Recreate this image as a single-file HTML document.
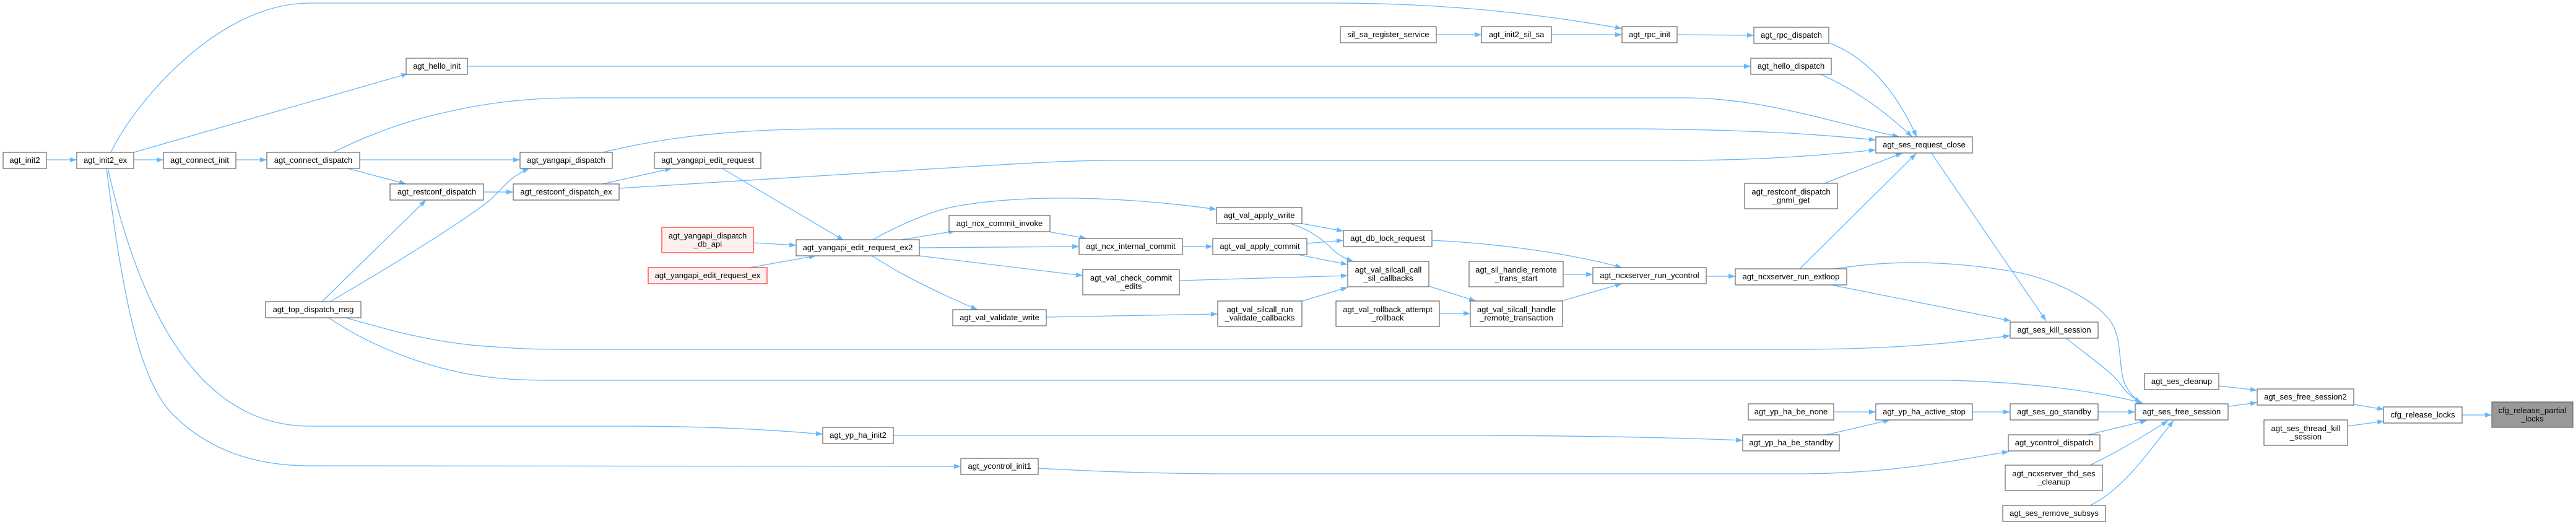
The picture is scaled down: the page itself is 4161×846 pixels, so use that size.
<!DOCTYPE html>
<html>
<head>
<meta charset="utf-8">
<style>
html,body{margin:0;padding:0;background:#fff;}
svg{display:block;}
.n{fill:#fff;stroke:#666;stroke-width:1.2;}
.r{fill:#fff0f0;stroke:#ff3b3b;stroke-width:1.3;}
.g{fill:#999;stroke:#666;stroke-width:1.2;}
text{font-family:"Liberation Sans",Arial,sans-serif;font-size:13px;fill:#000;text-anchor:middle;}
.e{fill:none;stroke:#63b8ff;stroke-width:1.3;marker-end:url(#ah);}
</style>
</head>
<body>
<svg width="4161" height="846" viewBox="0 0 4161 846" xmlns="http://www.w3.org/2000/svg">
<defs>
<marker id="ah" markerUnits="userSpaceOnUse" markerWidth="12" markerHeight="9" refX="11" refY="4" orient="auto">
<path d="M0,0 L11,4 L0,8 z" fill="#63b8ff"/>
</marker>
</defs>
<rect width="4161" height="846" fill="#fff"/>

<!-- edges -->
<g>
<path class="e" d="M76,258 L124,258"/>
<path class="e" d="M216,258 L264,258"/>
<path class="e" d="M381,258 L431,258"/>
<path class="e" d="M179,246 C215,170 350,5 500,5 L2150,5 C2350,5 2500,25 2620,46"/>
<path class="e" d="M216,246 L659,119"/>
<path class="e" d="M755,107 L2828,107"/>
<path class="e" d="M538,246 C580,225 640,200 700,186 C780,166 850,158 930,158 L2730,158 C2850,160 2950,195 3068,221"/>
<path class="e" d="M581,258 L840,258"/>
<path class="e" d="M558,271 L656,297"/>
<path class="e" d="M781,310 L829,310"/>
<path class="e" d="M520,487 L688,323"/>
<path class="e" d="M533,487 C640,425 760,350 795,320 C815,300 825,285 855,272"/>
<path class="e" d="M558,513 C620,530 700,555 800,560 C850,564 880,564 930,564 L2900,564 C3050,564 3150,555 3247,542"/>
<path class="e" d="M531,513 C600,560 700,600 800,610 C840,614 870,614 900,614 L3150,614 C3300,618 3400,635 3462,651"/>
<path class="e" d="M174,271 C230,520 330,688 500,688 L1000,688 C1150,688 1250,694 1329,701"/>
<path class="e" d="M172,271 C200,500 230,620 280,670 C330,720 400,752 500,752 L1552,753"/>
<path class="e" d="M973,246 C1050,228 1150,208 1350,208 L2650,208 C2850,210 2950,218 3030,226"/>
<path class="e" d="M973,297 L1085,272"/>
<path class="e" d="M1000,304 L1500,273 C1650,264 1720,259 1800,259 L2700,259 C2850,259 2950,250 3030,242"/>
<path class="e" d="M1165,271 L1363,388"/>
<path class="e" d="M1217,392 L1286,396"/>
<path class="e" d="M1211,432 L1318,413"/>
<path class="e" d="M1456,387 L1543,373"/>
<path class="e" d="M1485,400 L1743,398"/>
<path class="e" d="M1485,413 L1749,445"/>
<path class="e" d="M1408,413 L1450,438 Q1500,466 1579,500"/>
<path class="e" d="M1408,388 C1440,370 1500,340 1550,332 C1650,315 1800,315 1965,338"/>
<path class="e" d="M1688,373 L1755,385"/>
<path class="e" d="M1910,398 L1959,398"/>
<path class="e" d="M2103,361 L2170,373"/>
<path class="e" d="M2084,361 C2120,372 2140,390 2155,405 C2165,414 2175,418 2186,422"/>
<path class="e" d="M2111,393 L2170,388"/>
<path class="e" d="M2096,411 L2177,427"/>
<path class="e" d="M1905,453 L2177,445"/>
<path class="e" d="M1690,512 L1967,507"/>
<path class="e" d="M2103,486 L2177,464"/>
<path class="e" d="M2313,388 C2400,392 2520,405 2620,432"/>
<path class="e" d="M2308,462 L2384,486"/>
<path class="e" d="M2325,506 L2375,506"/>
<path class="e" d="M2320,56 L2393,56"/>
<path class="e" d="M2506,56 L2620,56"/>
<path class="e" d="M2709,56 L2833,57"/>
<path class="e" d="M2954,69 C3010,90 3060,140 3096,221"/>
<path class="e" d="M2938,119 C3000,145 3050,185 3089,221"/>
<path class="e" d="M2947,296 L3073,247"/>
<path class="e" d="M2525,443 L2573,443"/>
<path class="e" d="M2522,486 L2620,458"/>
<path class="e" d="M2756,446 L2803,446"/>
<path class="e" d="M2907,434 L3095,248"/>
<path class="e" d="M2958,460 L3248,518"/>
<path class="e" d="M2964,434 C3050,420 3150,420 3261,440 C3330,455 3390,490 3410,520 C3430,550 3420,600 3435,625 C3442,638 3450,645 3459,650"/>
<path class="e" d="M3119,246 L3305,518"/>
<path class="e" d="M3336,545 C3380,580 3410,600 3425,620 C3435,635 3445,642 3459,650"/>
<path class="e" d="M3389,665 L3449,665"/>
<path class="e" d="M3373,702 L3468,679"/>
<path class="e" d="M3376,751 C3420,730 3470,700 3502,679"/>
<path class="e" d="M3376,816 C3430,790 3470,730 3511,679"/>
<path class="e" d="M2962,665 L3030,665"/>
<path class="e" d="M2950,702 L3053,678"/>
<path class="e" d="M1443,703 L2400,703 C2600,704 2720,707 2815,711"/>
<path class="e" d="M3186,665 L3247,665"/>
<path class="e" d="M1677,756 C1800,763 1900,765 2000,765 L2900,765 C3050,765 3150,745 3245,729"/>
<path class="e" d="M3584,623 L3646,630"/>
<path class="e" d="M3599,656 L3646,650"/>
<path class="e" d="M3802,653 L3851,661"/>
<path class="e" d="M3792,688 L3851,680"/>
<path class="e" d="M3977,670 L4025,670"/>
</g>

<!-- nodes -->
<g>
<rect class="n" x="5" y="246" width="70" height="26"/><text x="40" y="263">agt_init2</text>
<rect class="n" x="124" y="246" width="92" height="26"/><text x="170" y="263">agt_init2_ex</text>
<rect class="n" x="264" y="246" width="117" height="26"/><text x="322.5" y="263">agt_connect_init</text>
<rect class="n" x="431" y="246" width="150" height="26"/><text x="506" y="263">agt_connect_dispatch</text>
<rect class="n" x="429" y="487" width="154" height="26"/><text x="506" y="504">agt_top_dispatch_msg</text>
<rect class="n" x="656" y="94" width="99" height="26"/><text x="705.5" y="111">agt_hello_init</text>
<rect class="n" x="630" y="297" width="151" height="26"/><text x="705.5" y="314">agt_restconf_dispatch</text>
<rect class="n" x="840" y="246" width="149" height="26"/><text x="914.5" y="263">agt_yangapi_dispatch</text>
<rect class="n" x="1057" y="246" width="172" height="26"/><text x="1143" y="263">agt_yangapi_edit_request</text>
<rect class="n" x="829" y="297" width="171" height="26"/><text x="914.5" y="314">agt_restconf_dispatch_ex</text>
<rect class="r" x="1069" y="367" width="148" height="41"/><text x="1143" y="385">agt_yangapi_dispatch</text><text x="1143" y="398.5">_db_api</text>
<rect class="n" x="1286" y="387" width="199" height="26"/><text x="1385.5" y="404">agt_yangapi_edit_request_ex2</text>
<rect class="r" x="1047" y="432" width="192" height="26"/><text x="1143" y="449">agt_yangapi_edit_request_ex</text>
<rect class="n" x="1329" y="690" width="114" height="26"/><text x="1386" y="707">agt_yp_ha_init2</text>
<rect class="n" x="1533" y="348" width="163" height="26"/><text x="1614.5" y="365">agt_ncx_commit_invoke</text>
<rect class="n" x="1743" y="385" width="167" height="26"/><text x="1826.5" y="402">agt_ncx_internal_commit</text>
<rect class="n" x="1749" y="435" width="156" height="41"/><text x="1827" y="453">agt_val_check_commit</text><text x="1827" y="466.5">_edits</text>
<rect class="n" x="1539" y="500" width="151" height="26"/><text x="1614.5" y="517">agt_val_validate_write</text>
<rect class="n" x="1552" y="740" width="125" height="26"/><text x="1614.5" y="757">agt_ycontrol_init1</text>
<rect class="n" x="1965" y="335" width="138" height="26"/><text x="2034" y="352">agt_val_apply_write</text>
<rect class="n" x="1959" y="385" width="152" height="26"/><text x="2035" y="402">agt_val_apply_commit</text>
<rect class="n" x="2170" y="372" width="143" height="26"/><text x="2241.5" y="389">agt_db_lock_request</text>
<rect class="n" x="2177" y="422" width="131" height="41"/><text x="2242.5" y="440">agt_val_silcall_call</text><text x="2242.5" y="453.5">_sil_callbacks</text>
<rect class="n" x="1967" y="486" width="136" height="41"/><text x="2035" y="504">agt_val_silcall_run</text><text x="2035" y="517.5">_validate_callbacks</text>
<rect class="n" x="2158" y="486" width="167" height="41"/><text x="2241.5" y="504">agt_val_rollback_attempt</text><text x="2241.5" y="517.5">_rollback</text>
<rect class="n" x="2165" y="43" width="155" height="26"/><text x="2242.5" y="60">sil_sa_register_service</text>
<rect class="n" x="2393" y="43" width="113" height="26"/><text x="2449.5" y="60">agt_init2_sil_sa</text>
<rect class="n" x="2620" y="43" width="89" height="26"/><text x="2664.5" y="60">agt_rpc_init</text>
<rect class="n" x="2833" y="44" width="121" height="26"/><text x="2893.5" y="61">agt_rpc_dispatch</text>
<rect class="n" x="2828" y="94" width="130" height="26"/><text x="2893" y="111">agt_hello_dispatch</text>
<rect class="n" x="3030" y="221" width="156" height="26"/><text x="3108" y="238">agt_ses_request_close</text>
<rect class="n" x="2818" y="296" width="150" height="41"/><text x="2893" y="314">agt_restconf_dispatch</text><text x="2893" y="327.5">_gnmi_get</text>
<rect class="n" x="2373" y="422" width="152" height="41"/><text x="2449" y="440">agt_sil_handle_remote</text><text x="2449" y="453.5">_trans_start</text>
<rect class="n" x="2573" y="432" width="183" height="26"/><text x="2664.5" y="449">agt_ncxserver_run_ycontrol</text>
<rect class="n" x="2803" y="434" width="180" height="26"/><text x="2893" y="451">agt_ncxserver_run_extloop</text>
<rect class="n" x="2375" y="486" width="149" height="41"/><text x="2449.5" y="504">agt_val_silcall_handle</text><text x="2449.5" y="517.5">_remote_transaction</text>
<rect class="n" x="2824" y="652" width="138" height="26"/><text x="2893" y="669">agt_yp_ha_be_none</text>
<rect class="n" x="3030" y="652" width="156" height="26"/><text x="3108" y="669">agt_yp_ha_active_stop</text>
<rect class="n" x="2815" y="702" width="156" height="26"/><text x="2893" y="719">agt_yp_ha_be_standby</text>
<rect class="n" x="3247" y="520" width="142" height="26"/><text x="3318" y="537">agt_ses_kill_session</text>
<rect class="n" x="3247" y="652" width="142" height="26"/><text x="3318" y="669">agt_ses_go_standby</text>
<rect class="n" x="3244" y="702" width="148" height="26"/><text x="3318" y="719">agt_ycontrol_dispatch</text>
<rect class="n" x="3239" y="751" width="157" height="41"/><text x="3317.5" y="769">agt_ncxserver_thd_ses</text><text x="3317.5" y="782.5">_cleanup</text>
<rect class="n" x="3235" y="816" width="166" height="26"/><text x="3318" y="833">agt_ses_remove_subsys</text>
<rect class="n" x="3449" y="652" width="150" height="26"/><text x="3524" y="669">agt_ses_free_session</text>
<rect class="n" x="3464" y="603" width="120" height="26"/><text x="3524" y="620">agt_ses_cleanup</text>
<rect class="n" x="3646" y="628" width="156" height="26"/><text x="3724" y="645">agt_ses_free_session2</text>
<rect class="n" x="3657" y="678" width="135" height="41"/><text x="3724.5" y="696">agt_ses_thread_kill</text><text x="3724.5" y="709.5">_session</text>
<rect class="n" x="3850" y="657" width="127" height="26"/><text x="3913.5" y="674">cfg_release_locks</text>
<rect class="g" x="4025" y="649" width="131" height="41"/><text x="4090.5" y="667">cfg_release_partial</text><text x="4090.5" y="680.5">_locks</text>
</g>
</svg>
</body>
</html>
